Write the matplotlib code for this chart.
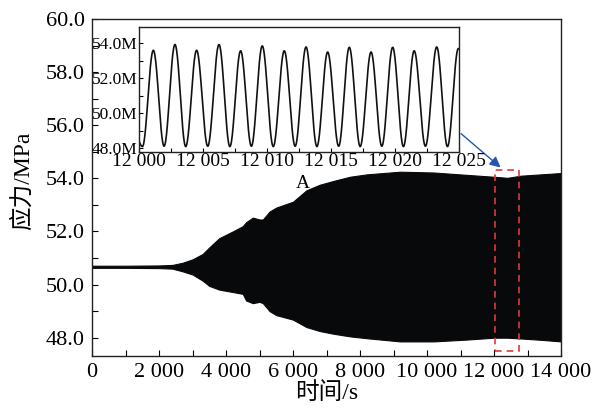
import matplotlib
matplotlib.use('Agg')
import matplotlib.pyplot as plt
import numpy as np
from matplotlib.patches import Rectangle

plt.rcParams['font.family'] = ['Liberation Serif', 'Noto Sans CJK SC']
plt.rcParams['axes.unicode_minus'] = False

# envelope of the stress response (MPa) over the full run
t_env = [0, 1000, 2000, 2400, 2700, 3000, 3300, 3500, 3800, 4200, 4500, 4600, 4800,
         5000, 5100, 5300, 5500, 6000, 6400, 6800, 7200, 7700, 8200, 9200, 10200,
         11200, 12000, 12400, 12800, 13400, 14000]
upper = [50.71, 50.71, 50.72, 50.74, 50.82, 50.95, 51.15, 51.40, 51.75, 52.00, 52.20,
         52.35, 52.52, 52.45, 52.45, 52.75, 52.90, 53.12, 53.55, 53.76, 53.90, 54.06,
         54.15, 54.25, 54.22, 54.13, 54.06, 54.02, 54.10, 54.15, 54.20]
lower = [50.63, 50.63, 50.62, 50.60, 50.50, 50.38, 50.15, 49.95, 49.81, 49.72, 49.65,
         49.40, 49.30, 49.35, 49.30, 49.00, 48.85, 48.68, 48.40, 48.25, 48.15, 48.05,
         47.98, 47.86, 47.86, 47.93, 48.00, 48.00, 47.97, 47.92, 47.86]

# peaks / troughs of the zoomed window A (12000-12025 s), values in MPa
t_ext = [11998.55, 12000.27, 12001.12, 12001.96, 12002.81, 12003.65, 12004.50, 12005.37,
         12006.25, 12007.10, 12007.94, 12008.78, 12009.63, 12010.49, 12011.35, 12012.20,
         12013.05, 12013.90, 12014.74, 12015.60, 12016.43, 12017.28, 12018.13, 12018.97,
         12019.82, 12020.66, 12021.50, 12022.38, 12023.26, 12024.10, 12024.95, 12026.65]
v_ext = [53.90, 48.10, 53.60, 48.12, 53.93, 48.10, 53.60, 48.12, 53.93, 48.10, 53.57,
         48.12, 53.85, 48.10, 53.57, 48.12, 53.79, 48.10, 53.50, 48.12, 53.77, 48.10,
         53.50, 48.12, 53.77, 48.10, 53.57, 48.12, 53.79, 48.10, 53.70, 48.10]

# cosine-shaped transitions between successive extrema
t_in, v_in = [], []
for i in range(len(t_ext) - 1):
    s = np.linspace(0, 1, 40, endpoint=False)
    t_in.append(t_ext[i] + (t_ext[i + 1] - t_ext[i]) * s)
    v_in.append(v_ext[i] + (v_ext[i + 1] - v_ext[i]) * (1 - np.cos(np.pi * s)) / 2)
t_in = np.concatenate(t_in)
v_in = np.concatenate(v_in)

fig = plt.figure(figsize=(6.11, 4.16), dpi=100)
ax = fig.add_axes([0.1506, 0.1442, 0.7676, 0.8101])
ax.fill_between(t_env, lower, upper, color='#08090b', lw=0.8, edgecolor='#08090b')
ax.set_xlim(0, 14000)
ax.set_ylim(47.31, 60)
ax.set_xticks(np.arange(0, 14001, 2000))
ax.set_xticklabels(['0', '2 000', '4 000', '6 000', '8 000', '10 000', '12 000', '14 000'])
ax.set_xticks(np.arange(1000, 14000, 2000), minor=True)
ax.set_yticks(np.arange(48, 60.1, 2))
ax.set_yticklabels(['%.1f' % v for v in np.arange(48, 60.1, 2)])
ax.set_yticks(np.arange(49, 60, 2), minor=True)
ax.tick_params(which='both', direction='in', length=4, width=0.8, labelsize=16,
               top=False, right=False)
ax.tick_params(axis='x', pad=5)
ax.tick_params(axis='y', pad=5)
for sp in ax.spines.values():
    sp.set_linewidth(1.0)
    sp.set_color('#222222')
ax.set_xlabel('时间/s', fontsize=17, labelpad=0)
ax.set_ylabel('应力/MPa', fontsize=17)
ax.yaxis.set_label_coords(-0.125, 0.52)

# window A marker
ax.add_patch(Rectangle((12020, 47.48), 726, 6.84, fill=False, ls=(0, (4, 3)),
                       lw=1.2, ec='#e0383a'))
ax.annotate('', xy=(12260, 54.34), xytext=(10955, 55.75),
            arrowprops=dict(arrowstyle='-|>', color='#2456b0', lw=1.0,
                            mutation_scale=16))
ax.text(6300, 53.82, 'A', fontsize=14, ha='center', va='center')

# zoomed view of window A
ins = fig.add_axes([0.2275, 0.6346, 0.5237, 0.3005])
ins.plot(t_in, v_in, color='#111111', lw=1.2)
ins.set_xlim(12000, 12025)
ins.set_ylim(47.79, 54.93)
ins.set_xticks(np.arange(12000, 12026, 5))
ins.set_xticklabels(['12 %03d' % (v - 12000) for v in range(12000, 12026, 5)])
ins.set_xticks(np.arange(12002.5, 12025, 5), minor=True)
ins.set_yticks([48, 50, 52, 54])
ins.set_yticklabels(['48.0M', '50.0M', '52.0M', '54.0M'])
ins.set_yticks([49, 51, 53], minor=True)
ins.tick_params(which='both', direction='in', length=3, width=0.8, top=False, right=False)
ins.tick_params(axis='x', labelsize=14, pad=1)
ins.tick_params(axis='y', labelsize=12.5, pad=1)
for sp in ins.spines.values():
    sp.set_linewidth(1.0)
    sp.set_color('#222222')

fig.savefig('out.png', dpi=100)
